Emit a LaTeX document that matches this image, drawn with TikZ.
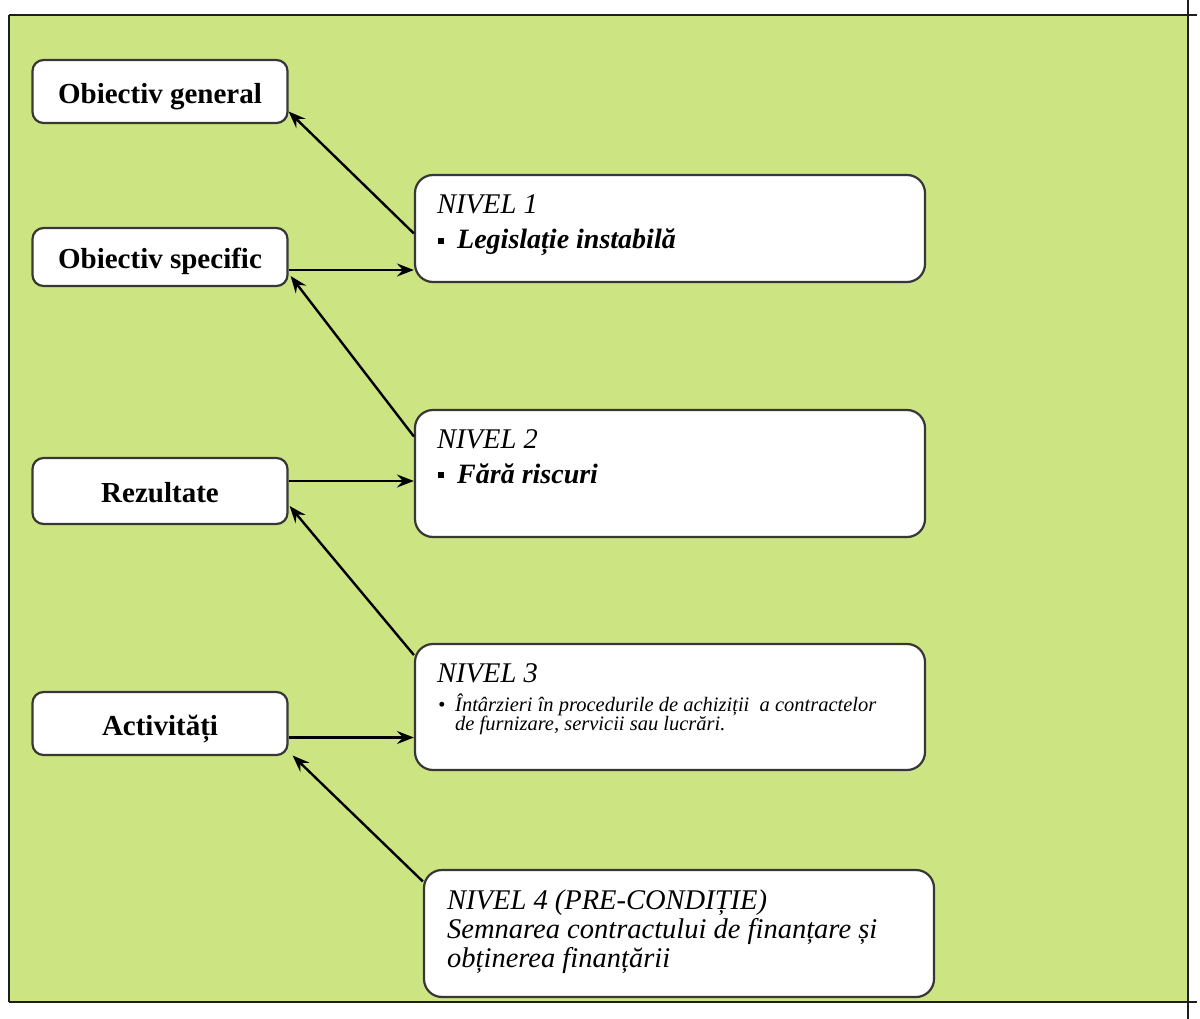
\documentclass[tikz,border=0pt]{standalone}
\usepackage{fontspec}
\setmainfont{Liberation Serif}
\usetikzlibrary{arrows.meta}
\definecolor{bggreen}{RGB}{205,228,131}
\definecolor{boxline}{RGB}{55,55,55}
\definecolor{frameline}{RGB}{30,30,30}
\newcommand{\lowtext}[1]{\raisebox{-3pt}{#1}}
\begin{document}
\begin{tikzpicture}[x=1pt,y=-1pt,
  leftbox/.style={draw=boxline, fill=white, line width=2.2pt, rounded corners=11pt,
    minimum width=255pt, inner sep=0pt, text depth=0pt, font=\fontsize{29}{32}\selectfont\bfseries},
  rightbox/.style={draw=boxline, fill=white, line width=2.2pt, rounded corners=18pt,
    minimum width=510pt, inner sep=0pt},
  lvl/.style={anchor=base west, inner sep=0pt, font=\fontsize{28.5}{30}\selectfont\itshape},
  itemtext/.style={anchor=base west, inner sep=0pt, font=\fontsize{28}{30}\selectfont\bfseries\itshape},
  smalltext/.style={anchor=base west, inner sep=0pt, font=\fontsize{20.5}{21}\selectfont\itshape},
  sqbullet/.style={fill=black, inner sep=0pt, minimum size=6.5pt},
  arr/.style={-{Stealth[length=17pt,width=13pt,inset=6pt]}, line width=2.4pt, black}
]
\useasboundingbox (0,0) rectangle (1200,1019);
% background panel and frame
\fill[bggreen] (9,15) rectangle (1188,1002);
\draw[frameline, line width=2.6pt] (9,15) -- (1197,15);
\draw[frameline, line width=2.6pt] (9,1002) -- (1197,1002);
\draw[frameline, line width=2.6pt] (9,15) -- (9,1002);
\draw[frameline, line width=2.6pt] (1188,0) -- (1188,1019);

% left boxes
\node[leftbox, minimum height=63pt] (og) at (160,91.5) {\lowtext{Obiectiv general}};
\node[leftbox, minimum height=58pt] (os) at (160,257) {\lowtext{Obiectiv specific}};
\node[leftbox, minimum height=66pt] (rz) at (160,491) {\lowtext{Rezultate}};
\node[leftbox, minimum height=63pt] (ac) at (160,723.5) {\lowtext{Activități}};

% right boxes
\node[rightbox, minimum height=107pt] (n1) at (670,228.5) {};
\node[rightbox, minimum height=127pt] (n2) at (670,473.5) {};
\node[rightbox, minimum height=126pt] (n3) at (670,707) {};
\node[rightbox, minimum height=127pt] (n4) at (679,933.5) {};

% texts NIVEL 1
\node[lvl] (n1a) at (437,214) {NIVEL 1};
\node[sqbullet] (n1b) at (441,241) {};
\node[itemtext] (n1c) at (457,249) {Legislație instabilă};
% NIVEL 2
\node[lvl] (n2a) at (437,448) {NIVEL 2};
\node[sqbullet] (n2b) at (441,475) {};
\node[itemtext] (n2c) at (457,483) {Fără riscuri};
% NIVEL 3
\node[lvl] (n3a) at (437,682) {NIVEL 3};
\node[smalltext] (n3b) at (438,711) {•};
\node[smalltext] (n3c) at (455,711) {Întârzieri în procedurile de achiziții \ a contractelor};
\node[smalltext] (n3d) at (455,730) {de furnizare, servicii sau lucrări.};
% NIVEL 4
\node[lvl] (n4a) at (447,909) {NIVEL 4 (PRE-CONDIȚIE)};
\node[lvl] (n4b) at (447,938) {Semnarea contractului de finanțare și};
\node[lvl] (n4c) at (447,967) {obținerea finanțării};

% connectors
\draw[arr] ([yshift=-5pt]n1.west) -- ([yshift=-20pt]og.east);
\draw[arr] ([yshift=-13pt]os.east) -- ([yshift=-13pt]os.east -| n1.west);
\draw[arr] ([yshift=37pt]n2.west) -- ([xshift=2pt,yshift=-19pt]os.east);
\draw[arr] ([yshift=10pt]rz.east) -- ([yshift=10pt]rz.east -| n2.west);
\draw[arr] ([yshift=52pt]n3.west) -- ([xshift=1pt,yshift=-15pt]rz.east);
\draw[arr] ([yshift=-14pt]ac.east) -- ([yshift=-14pt]ac.east -| n3.west);
\draw[arr] ([yshift=52pt]n4.west) -- ([xshift=4pt,yshift=-32pt]ac.east);
\end{tikzpicture}
\end{document}
